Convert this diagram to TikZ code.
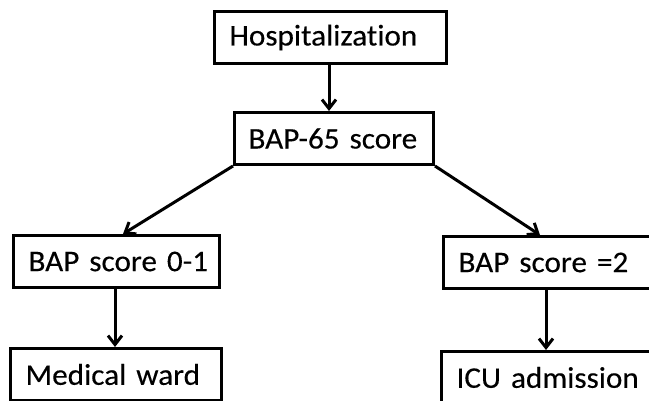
\documentclass[tikz,border=0pt]{standalone}
\usepackage{fontspec}
\setmainfont{Carlito}[FakeStretch=1.04, Ligatures=CommonOff, FakeBold=0.3]
\usetikzlibrary{arrows.meta}
\begin{document}
\begin{tikzpicture}[x=1pt,y=-1pt,
  box/.style={draw, line width=3pt, anchor=north west, minimum height=52pt,
    align=left, font=\fontsize{30}{34}\selectfont, inner ysep=0pt, inner xsep=15pt},
  conn/.style={line width=3pt, -{Straight Barb[length=9pt,width=14pt]}}]
\useasboundingbox (0,0) rectangle (649,401);
\clip (0,0) rectangle (649,401);
\node[box, text width=202pt] (hosp) at (213,10) {\mbox{Hospitalization}};
\node[box, inner xsep=14pt, text width=171pt] (bap) at (233,111) {\mbox{BAP-65 score}};
\node[box, text width=176pt] (b01) at (12,234) {\mbox{BAP score 0-1}};
\node[box, text width=250pt] (b2) at (442,235) {\mbox{BAP score =2}};
\node[box, text width=181pt] (ward) at (9,347) {\mbox{Medical ward}};
\node[box, text width=250pt] (icu) at (440,350) {\mbox{ICU admission}};
\draw[conn] ([xshift=116pt]hosp.south west) -- ([xshift=96pt]bap.north west);
\draw[conn] (bap.south west) -- ([xshift=111pt]b01.north west);
\draw[conn] (bap.south east) -- ([xshift=98pt]b2.north west);
\draw[conn] ([xshift=103pt]b01.south west) -- ([xshift=106pt]ward.north west);
\draw[conn] ([xshift=104pt]b2.south west) -- ([xshift=106pt]icu.north west);
\end{tikzpicture}
\end{document}
